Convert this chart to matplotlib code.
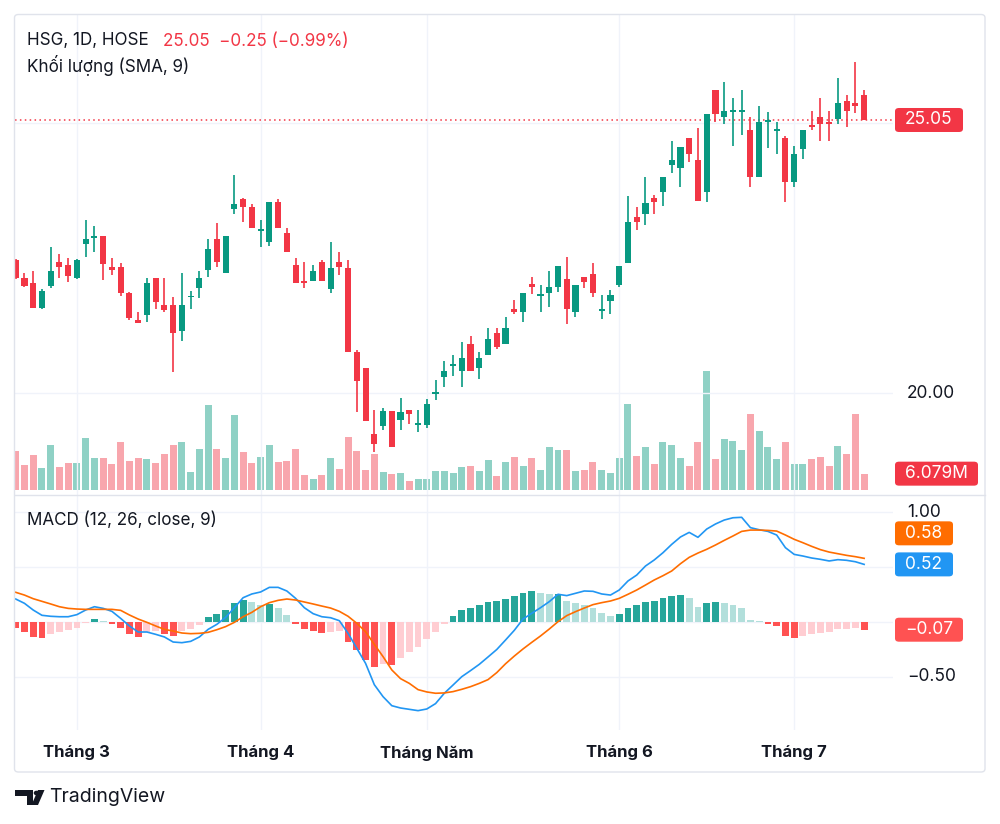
import matplotlib.pyplot as plt
from matplotlib.patches import FancyBboxPatch, Circle, Polygon
from matplotlib.lines import Line2D
from matplotlib.transforms import blended_transform_factory
import numpy as np

plt.rcParams['font.family'] = ['Inter', 'DejaVu Sans']

# HSG daily, 21 Feb - 11 Jul (98 sessions)
months = ['Tháng 3', 'Tháng 4', 'Tháng Năm', 'Tháng 6', 'Tháng 7']
month_start = [7, 28, 47, 69, 89]

open_ = [22.46, 22.13, 22.04, 21.57, 21.98, 22.42, 22.37, 22.13, 22.76, 22.87,
         22.90, 22.33, 22.33, 21.85, 21.35, 21.44, 22.13, 21.63, 21.63, 21.15,
         21.78, 21.94, 22.28, 22.85, 22.22, 23.40, 23.59, 23.44, 23.00, 22.79,
         23.53, 22.96, 22.37, 22.07, 22.07, 22.42, 21.92, 22.42, 22.31, 20.76,
         20.46, 19.24, 19.39, 19.67, 19.50, 19.69, 19.42, 19.41, 19.98, 20.30,
         20.50, 20.41, 20.91, 20.46, 20.70, 21.11, 20.91, 21.55, 21.50, 22.02,
         21.80, 21.85, 21.96, 22.11, 21.50, 22.15, 22.20, 21.53, 21.70, 22.00,
         22.41, 23.26, 23.31, 23.61, 23.72, 24.22, 24.16, 24.72, 24.31, 23.72,
         25.61, 25.11, 25.21, 25.21, 24.87, 24.00, 25.02, 24.86, 24.72, 23.90,
         24.51, 24.96, 25.11, 25.01, 25.07, 25.40, 25.37, 25.51]
high = [22.48, 22.22, 22.26, 21.92, 22.70, 22.57, 22.50, 22.48, 23.20, 23.09,
        22.90, 22.50, 22.41, 21.87, 21.50, 22.13, 22.13, 22.13, 21.78, 22.22,
        21.89, 22.26, 22.85, 23.14, 22.90, 24.03, 23.61, 23.50, 23.20, 23.53,
        23.59, 23.05, 22.50, 22.42, 22.37, 22.46, 22.79, 22.61, 22.46, 20.80,
        20.46, 19.69, 19.72, 19.67, 19.91, 19.69, 19.69, 19.89, 20.24, 20.59,
        20.70, 20.94, 21.05, 20.76, 21.20, 21.20, 21.41, 21.72, 21.85, 22.15,
        22.00, 22.26, 22.35, 22.52, 22.00, 22.15, 22.41, 21.81, 21.91, 22.35,
        23.64, 23.44, 24.00, 23.66, 24.00, 24.66, 24.55, 24.72, 24.90, 25.16,
        25.61, 25.75, 25.46, 25.61, 25.11, 25.31, 25.20, 25.01, 24.75, 24.57,
        24.87, 25.22, 25.46, 25.22, 25.83, 25.51, 26.12, 25.61]
low = [22.11, 21.96, 21.57, 21.55, 21.94, 22.13, 22.05, 22.11, 22.52, 22.61,
       22.09, 22.18, 21.79, 21.35, 21.30, 21.31, 21.55, 21.50, 20.39, 20.96,
       21.55, 21.76, 22.15, 22.33, 22.22, 23.31, 23.16, 23.05, 22.70, 22.72,
       23.05, 22.61, 22.04, 21.94, 22.07, 22.07, 21.85, 22.18, 20.76, 19.65,
       19.48, 18.91, 19.32, 19.00, 19.32, 19.43, 19.28, 19.35, 19.87, 20.11,
       20.31, 20.11, 20.41, 20.26, 20.70, 20.81, 20.91, 21.46, 21.31, 21.83,
       21.50, 21.59, 21.87, 21.28, 21.41, 21.94, 21.78, 21.37, 21.46, 21.96,
       22.41, 23.02, 23.11, 23.31, 23.46, 24.07, 23.81, 24.27, 23.55, 23.53,
       25.01, 24.98, 24.57, 24.77, 23.81, 24.00, 24.53, 24.42, 23.53, 23.81,
       24.33, 24.87, 24.66, 24.66, 24.98, 24.92, 25.18, 25.05]
close = [22.13, 21.98, 21.57, 21.89, 22.26, 22.33, 22.16, 22.46, 22.85, 22.90,
         22.39, 22.28, 21.85, 21.39, 21.30, 22.04, 21.68, 21.54, 21.11, 21.63,
         21.79, 22.13, 22.66, 22.42, 22.90, 23.50, 23.44, 23.05, 23.02, 23.53,
         23.05, 22.61, 22.04, 22.04, 22.26, 22.07, 22.31, 22.33, 20.76, 20.22,
         19.48, 19.06, 19.67, 19.00, 19.65, 19.61, 19.44, 19.80, 20.02, 20.41,
         20.52, 20.65, 20.41, 20.65, 21.00, 20.85, 21.20, 21.50, 21.85, 21.96,
         21.82, 21.96, 22.35, 21.55, 22.00, 22.05, 21.85, 21.54, 21.81, 22.35,
         23.16, 23.16, 23.52, 23.53, 24.00, 24.31, 24.55, 24.42, 23.55, 25.16,
         25.16, 25.22, 25.23, 25.23, 24.00, 25.01, 25.04, 24.87, 23.90, 24.42,
         24.87, 24.92, 24.98, 24.98, 25.37, 25.22, 25.30, 25.05]
# volume, million shares
volume = [14.4, 9.4, 13.2, 8.2, 16.7, 8.7, 10.1, 9.9, 19.5, 11.8,
          11.9, 9.6, 17.7, 10.9, 11.9, 11.4, 10.1, 13.4, 16.8, 17.7,
          6.7, 15.2, 31.8, 15.2, 11.8, 27.8, 14.3, 10.2, 12.4, 16.8,
          10.3, 10.8, 15.2, 5.7, 4.2, 5.6, 11.9, 8.0, 19.9, 14.5,
          7.6, 13.5, 6.7, 6.1, 6.5, 3.5, 4.1, 4.2, 7.0, 7.1,
          6.3, 8.5, 9.1, 7.1, 11.3, 5.3, 10.4, 12.2, 9.1, 11.8,
          7.3, 15.9, 14.9, 14.9, 7.1, 7.6, 10.4, 7.5, 6.2, 11.9,
          31.9, 12.8, 16.2, 9.6, 17.8, 16.7, 12.1, 9.1, 17.7, 44.3,
          11.7, 18.9, 18.3, 14.9, 28.2, 21.8, 16.0, 11.4, 17.7, 9.6,
          9.7, 11.7, 12.3, 8.8, 16.3, 13.3, 28.2, 6.079]
macd = [0.209, 0.170, 0.109, 0.061, 0.052, 0.048, 0.048, 0.067, 0.109, 0.139,
        0.124, 0.097, 0.033, -0.036, -0.091, -0.091, -0.112, -0.136, -0.182, -0.188,
        -0.176, -0.136, -0.067, -0.021, 0.042, 0.130, 0.221, 0.255, 0.273, 0.315,
        0.315, 0.282, 0.215, 0.130, 0.076, 0.048, 0.039, 0.012, -0.103, -0.239,
        -0.376, -0.570, -0.679, -0.761, -0.782, -0.794, -0.806, -0.791, -0.742, -0.648,
        -0.573, -0.497, -0.442, -0.385, -0.318, -0.250, -0.164, -0.076, 0.027, 0.079,
        0.130, 0.185, 0.252, 0.240, 0.261, 0.282, 0.279, 0.255, 0.245, 0.291,
        0.373, 0.427, 0.509, 0.564, 0.630, 0.706, 0.773, 0.815, 0.770, 0.845,
        0.891, 0.927, 0.948, 0.952, 0.858, 0.839, 0.824, 0.791, 0.676, 0.615,
        0.600, 0.582, 0.570, 0.555, 0.567, 0.561, 0.548, 0.524]
signal = [0.270, 0.245, 0.212, 0.188, 0.164, 0.139, 0.124, 0.118, 0.115, 0.115,
          0.115, 0.115, 0.106, 0.064, 0.027, -0.003, -0.036, -0.067, -0.082, -0.100,
          -0.106, -0.103, -0.094, -0.070, -0.042, -0.003, 0.048, 0.088, 0.139, 0.176,
          0.197, 0.209, 0.200, 0.182, 0.164, 0.145, 0.127, 0.097, 0.052, -0.012,
          -0.088, -0.203, -0.315, -0.436, -0.515, -0.558, -0.615, -0.636, -0.648, -0.645,
          -0.633, -0.612, -0.588, -0.558, -0.524, -0.460, -0.380, -0.310, -0.245, -0.185,
          -0.127, -0.064, 0.003, 0.058, 0.094, 0.127, 0.158, 0.176, 0.191, 0.215,
          0.252, 0.291, 0.336, 0.382, 0.421, 0.464, 0.530, 0.588, 0.627, 0.661,
          0.700, 0.742, 0.782, 0.824, 0.836, 0.836, 0.833, 0.827, 0.791, 0.752,
          0.721, 0.688, 0.658, 0.636, 0.621, 0.606, 0.594, 0.579]
hist = [-0.058, -0.094, -0.139, -0.142, -0.112, -0.088, -0.073, -0.052, -0.012, 0.030,
        0.006, -0.015, -0.052, -0.106, -0.139, -0.088, -0.082, -0.106, -0.127, -0.082,
        -0.064, -0.027, 0.045, 0.073, 0.112, 0.173, 0.197, 0.179, 0.155, 0.161,
        0.130, 0.067, -0.015, -0.064, -0.082, -0.100, -0.094, -0.082, -0.179, -0.258,
        -0.345, -0.406, -0.385, -0.391, -0.324, -0.270, -0.227, -0.158, -0.094, -0.015,
        0.055, 0.106, 0.124, 0.152, 0.182, 0.188, 0.212, 0.236, 0.267, 0.279,
        0.267, 0.252, 0.258, 0.194, 0.176, 0.155, 0.124, 0.079, 0.055, 0.070,
        0.127, 0.155, 0.185, 0.191, 0.215, 0.236, 0.242, 0.218, 0.139, 0.176,
        0.185, 0.173, 0.155, 0.124, 0.015, 0.006, -0.015, -0.039, -0.124, -0.142,
        -0.127, -0.112, -0.103, -0.091, -0.067, -0.065, -0.058, -0.070]

GREEN = '#089981'
RED = '#F23645'
TEXT = '#131722'
GRID = '#f0f3fa'
BORDER = '#e0e3eb'

W, H = 1000, 824
fig = plt.figure(figsize=(W / 100, H / 100), dpi=100)
fig.patch.set_facecolor('white')


def rect(x0, y0, x1, y1):
    # pixel box (top-left origin) -> figure fraction
    return [x0 / W, 1 - y1 / H, (x1 - x0) / W, (y1 - y0) / H]


ax_vol = fig.add_axes(rect(15, 15, 893, 494))
ax = fig.add_axes(rect(15, 15, 893, 494), sharex=ax_vol)
ax_m = fig.add_axes(rect(15, 494, 893, 730), sharex=ax_vol)
for a in (ax_vol, ax, ax_m):
    a.set_axis_off()

x = np.arange(len(close))
o, h, l, c = map(np.array, (open_, high, low, close))
up = c >= o
col = np.where(up, GREEN, RED)

ax_vol.set_xlim(-0.08, 100.3)
ax.set_ylim(18.132, 26.992)
ax_vol.set_ylim(-1.5, 177)
ax_m.set_ylim(-0.982, 1.164)

# grid
for m in month_start:
    for a in (ax, ax_m):
        a.axvline(m, color=GRID, lw=1, zorder=0)
for p in (20, 25):
    ax.axhline(p, color=GRID, lw=1, zorder=0)
for v in (1.0, 0.5, 0.0, -0.5):
    ax_m.axhline(v, color=GRID, lw=1, zorder=0)

# volume
vol_col = np.where(up, '#8fd1c5', '#f8a6ad')
ax_vol.bar(x, volume, width=0.8, color=vol_col, lw=0)

# candles
ax.vlines(x, l, h, colors=col, lw=1.2, zorder=3)
diff = np.abs(c - o)
body_h = np.maximum(diff, 0.035)
body_lo = np.where(diff < 0.035, (o + c) / 2 - 0.0175, np.minimum(o, c))
ax.bar(x, body_h, bottom=body_lo, width=0.7, color=col, lw=0, zorder=4)
ax.axhline(close[-1], color=RED, lw=1.1, ls=(0, (1, 2.2)), zorder=2)

# MACD
hv = np.array(hist)
prev = np.concatenate([[hv[0]], hv[:-1]])
hcol = np.where(hv >= 0, np.where(hv >= prev, '#26A69A', '#B2DFDB'),
                np.where(hv <= prev, '#FF5252', '#FFCDD2'))
ax_m.bar(x, hv, width=0.78, color=hcol, lw=0, zorder=2)
ax_m.plot(x, macd, color='#2196F3', lw=1.2, zorder=3)
ax_m.plot(x, signal, color='#FF6D00', lw=1.2, zorder=3)

# month labels
tm = blended_transform_factory(ax_m.transData, fig.transFigure)
for m, name in zip(month_start, months):
    ax_m.text(m, 1 - 753 / H, name, transform=tm, ha='center', va='center',
              fontsize=12, fontweight='bold', color=TEXT)


def ypix(axis, value):
    return axis.transData.transform((0, value))[1]


def scale_label(axis, value, text):
    fig.text(907 / W, ypix(axis, value) / H, text, color=TEXT, fontsize=12.5,
             ha='left', va='center', zorder=2)


def tag(yp, text, color, width):
    fig.patches.append(FancyBboxPatch((895 / W, (yp - 12) / H), width / W, 24 / H,
                                      boxstyle='round,pad=0,rounding_size=0.004',
                                      transform=fig.transFigure, fc=color, ec='none', zorder=5))
    fig.text((895 + width / 2) / W, yp / H, text, color='white', fontsize=12.5,
             ha='center', va='center', zorder=6)


# scale labels that are not hidden behind a value tag
scale_label(ax, 20, '20.00')
scale_label(ax_m, 1.0, '1.00')
scale_label(ax_m, -0.5, '\u22120.50')

tag(ypix(ax, close[-1]), f'{close[-1]:.2f}', RED, 68)
tag(ypix(ax_vol, volume[-1]), f'{volume[-1]:.3f}M', RED, 83)
y_macd = ypix(ax_m, macd[-1])
y_sig = ypix(ax_m, signal[-1])
if abs(y_sig - y_macd) < 25:
    y_sig = max(y_sig, y_macd) + 25 if y_sig >= y_macd else y_sig
tag(y_sig, f'{signal[-1]:.2f}', '#FF6D00', 58)
tag(y_macd, f'{macd[-1]:.2f}', '#2196F3', 58)
tag(ypix(ax_m, hist[-1]), f'{hist[-1]:.2f}'.replace('-', '\u2212'), '#FF5252', 68)

# legend texts
chg = close[-1] - close[-2]
pct = chg / close[-2] * 100
fig.text(27 / W, 1 - 41 / H, 'HSG, 1D, HOSE', color=TEXT, fontsize=12.3, va='center')
fig.text(163 / W, 1 - 41 / H,
         f'{close[-1]:.2f}  {chg:.2f} ({pct:.2f}%)'.replace('-', '\u2212'),
         color=RED, fontsize=12.3, va='center')
fig.text(27 / W, 1 - 66 / H, 'Khối lượng (SMA, 9)', color=TEXT, fontsize=12.3, va='center')
fig.text(27 / W, 1 - 520 / H, 'MACD (12, 26, close, 9)', color=TEXT, fontsize=12.3, va='center')

# frame
fig.patches.append(FancyBboxPatch((14.5 / W, 1 - 772 / H), 970.5 / W, 757.5 / H,
                                  boxstyle='round,pad=0,rounding_size=0.004',
                                  transform=fig.transFigure, fc='none', ec=BORDER, lw=1, zorder=1))
fig.add_artist(Line2D([15 / W, 985 / W], [1 - 494.5 / H, 1 - 494.5 / H],
                      color=BORDER, lw=1, transform=fig.transFigure))

# TradingView logo


def px(xp, yp):
    return (xp / W, 1 - yp / H)


logo = '#131722'
fig.patches.append(Polygon([px(15, 790), px(33, 790), px(33, 805), px(27, 805),
                            px(27, 796), px(15, 796)], closed=True,
                           transform=fig.transFigure, fc=logo, ec='none'))
fig.patches.append(Circle(px(36.5, 793), 2.8 / W, transform=fig.transFigure, fc=logo, ec='none'))
fig.patches.append(Polygon([px(38, 790), px(44.5, 790), px(38, 805), px(31.5, 805)], closed=True,
                           transform=fig.transFigure, fc=logo, ec='none'))
fig.text(49 / W, 1 - 797 / H, 'TradingView', color=TEXT, fontsize=14, va='center')

fig.savefig('out.png', dpi=100, facecolor='white')
